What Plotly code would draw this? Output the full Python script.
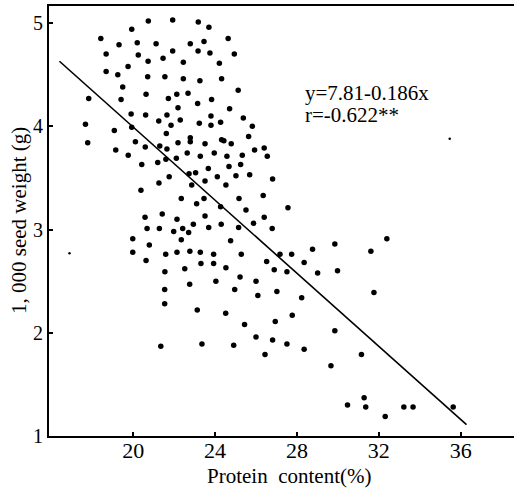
import plotly.graph_objects as go

# Protein content (%) and 1,000 seed weight (g)
protein = [
    20.74, 21.93, 23.18, 23.70, 19.93, 18.42, 19.31, 20.20, 21.12, 22.79,
    23.46, 24.64, 18.68, 20.25, 21.93, 23.17, 23.75, 24.94, 21.46, 20.73,
    22.45, 24.21, 19.75, 18.68, 19.25, 20.71, 21.55, 22.45, 23.26, 24.32,
    19.49, 25.13, 17.83, 19.41, 20.63, 21.72, 22.13, 22.68, 23.15, 23.83,
    22.19, 24.71, 19.90, 20.61, 21.65, 23.80, 25.38, 21.25, 22.30, 17.67,
    19.08, 19.93, 21.85, 23.23, 23.80, 24.27, 25.82, 21.62, 22.79, 22.79,
    24.32, 24.43, 25.64, 17.78, 20.11, 20.59, 21.30, 21.65, 22.19, 23.51,
    24.79, 26.40, 19.15, 19.76, 22.64, 23.28, 23.96, 24.58, 25.33, 25.93,
    26.55, 21.60, 22.11, 20.42, 21.20, 23.67, 24.68, 25.25, 21.76, 22.73,
    23.05, 24.11, 25.02, 25.69, 26.81, 21.26, 22.86, 23.51, 24.53, 20.38,
    22.35, 23.46, 25.17, 26.35,
    23.10, 24.27, 27.56, 25.51, 20.58, 21.42, 22.14, 23.51, 26.40, 25.88,
    20.68, 21.28, 21.98, 22.42, 22.71, 22.94, 23.69, 24.30, 25.15, 26.79,
    19.98, 22.35, 20.79, 24.76, 19.98, 21.59, 22.14, 22.77, 23.28, 23.93,
    25.28, 27.17, 20.63, 23.31, 23.93, 24.53, 26.52, 26.89, 27.51, 22.52,
    21.55, 25.22, 24.04, 26.00, 22.76, 21.54, 24.96, 26.09, 27.02, 21.54,
    23.13, 24.52, 25.44, 26.94, 26.00, 26.81, 27.51, 21.35, 23.36, 24.91,
    26.44,
    27.74, 28.76, 29.85, 31.61, 32.39, 28.35, 29.01, 29.98, 28.23, 31.76,
    27.77, 29.85, 28.35, 31.15, 29.66, 31.28, 30.47, 31.36, 33.22, 33.67,
    32.31, 35.63,
]
seed_weight = [
    5.02, 5.03, 5.01, 4.96, 4.94, 4.85, 4.79, 4.81, 4.80, 4.80,
    4.82, 4.85, 4.70, 4.69, 4.73, 4.73, 4.71, 4.70, 4.66, 4.63,
    4.62, 4.61, 4.58, 4.53, 4.50, 4.48, 4.48, 4.46, 4.44, 4.46,
    4.38, 4.35, 4.27, 4.26, 4.31, 4.27, 4.31, 4.32, 4.22, 4.26,
    4.18, 4.17, 4.12, 4.11, 4.11, 4.10, 4.08, 4.05, 4.06, 4.02,
    3.96, 3.99, 4.01, 4.03, 4.01, 4.04, 4.00, 3.93, 3.89, 3.85,
    3.87, 3.86, 3.90, 3.84, 3.85, 3.80, 3.81, 3.78, 3.84, 3.83,
    3.83, 3.79, 3.77, 3.72, 3.74, 3.71, 3.74, 3.71, 3.72, 3.77,
    3.71, 3.68, 3.69, 3.63, 3.65, 3.59, 3.61, 3.63, 3.51, 3.54,
    3.55, 3.51, 3.52, 3.53, 3.49, 3.45, 3.43, 3.47, 3.43, 3.38,
    3.30, 3.30, 3.30, 3.33,
    3.25, 3.22, 3.21, 3.19, 3.12, 3.15, 3.10, 3.13, 3.12, 3.06,
    3.01, 3.01, 2.98, 3.01, 2.97, 3.05, 3.02, 3.05, 3.02, 3.01,
    2.91, 2.90, 2.85, 2.89, 2.78, 2.76, 2.78, 2.79, 2.78, 2.76,
    2.76, 2.76, 2.70, 2.67, 2.67, 2.63, 2.69, 2.61, 2.59, 2.62,
    2.59, 2.54, 2.50, 2.50, 2.47, 2.42, 2.42, 2.36, 2.40, 2.28,
    2.22, 2.19, 2.08, 2.11, 1.96, 1.93, 1.89, 1.87, 1.89, 1.88,
    1.79,
    2.76, 2.81, 2.86, 2.79, 2.91, 2.68, 2.58, 2.60, 2.34, 2.39,
    2.17, 2.02, 1.84, 1.79, 1.68, 1.37, 1.30, 1.28, 1.28, 1.28,
    1.19, 1.28,
]

# small stray marks in the printed figure
stray_protein = [35.46, 16.89]
stray_weight = [3.88, 2.77]

# regression line as drawn
line_protein = [16.40, 36.28]
line_weight = [4.63, 1.11]

x_ticks = [20, 24, 28, 32, 36]
y_ticks = [1, 2, 3, 4, 5]

equation = "y=7.81-0.186x"
corr = "r=-0.622**"
x_title = "Protein\u00a0 content(%)"
y_title = "1, 000 seed weight\u00a0(g)"

SERIF = "Liberation Serif, Times New Roman, serif"

fig = go.Figure()
fig.add_trace(go.Scatter(
    x=protein, y=seed_weight, mode="markers",
    marker=dict(color="black", size=5.5, line=dict(width=0)),
    showlegend=False, hoverinfo="x+y"))
fig.add_trace(go.Scatter(
    x=stray_protein, y=stray_weight, mode="markers",
    marker=dict(color="black", size=2.5, line=dict(width=0)),
    showlegend=False, hoverinfo="skip"))
fig.add_trace(go.Scatter(
    x=line_protein, y=line_weight, mode="lines",
    line=dict(color="black", width=1.6),
    showlegend=False, hoverinfo="skip"))

fig.add_annotation(x=28.29, y=4.32, xref="x", yref="y", text=equation,
                   showarrow=False, xanchor="left", yanchor="middle",
                   font=dict(family=SERIF, size=21, color="black"))
fig.add_annotation(x=28.29, y=4.11, xref="x", yref="y", text=corr,
                   showarrow=False, xanchor="left", yanchor="middle",
                   font=dict(family=SERIF, size=21, color="black"))

fig.add_annotation(x=0.516, y=-0.094, xref="paper", yref="paper",
                   text=x_title, showarrow=False,
                   xanchor="center", yanchor="middle",
                   font=dict(family=SERIF, size=21, color="black"))
fig.add_annotation(x=-0.0645, y=0.50, xref="paper", yref="paper",
                   text=y_title, showarrow=False, textangle=-90,
                   xanchor="center", yanchor="middle",
                   font=dict(family=SERIF, size=21, color="black"))

fig.update_layout(
    width=514, height=490,
    margin=dict(l=49, r=0, t=6, b=54, pad=0),
    paper_bgcolor="white", plot_bgcolor="white",
    xaxis=dict(range=[15.89, 38.6], tickvals=x_ticks,
               showgrid=False, zeroline=False,
               showline=True, linecolor="black", linewidth=2, mirror=True,
               ticks="inside", ticklen=4, tickcolor="black", tickwidth=1.5,
               ticklabelstandoff=-6,
               tickfont=dict(family=SERIF, size=22, color="black")),
    yaxis=dict(range=[1.0, 5.165], tickvals=y_ticks,
               showgrid=False, zeroline=False,
               showline=True, linecolor="black", linewidth=2,
               ticks="inside", ticklen=4, tickcolor="black", tickwidth=1.5,
               tickfont=dict(family=SERIF, size=20, color="black")),
)

fig.write_html("out.html",
               config={"displayModeBar": False},
               post_script="document.body.style.margin='0';document.body.style.overflow='hidden';")
